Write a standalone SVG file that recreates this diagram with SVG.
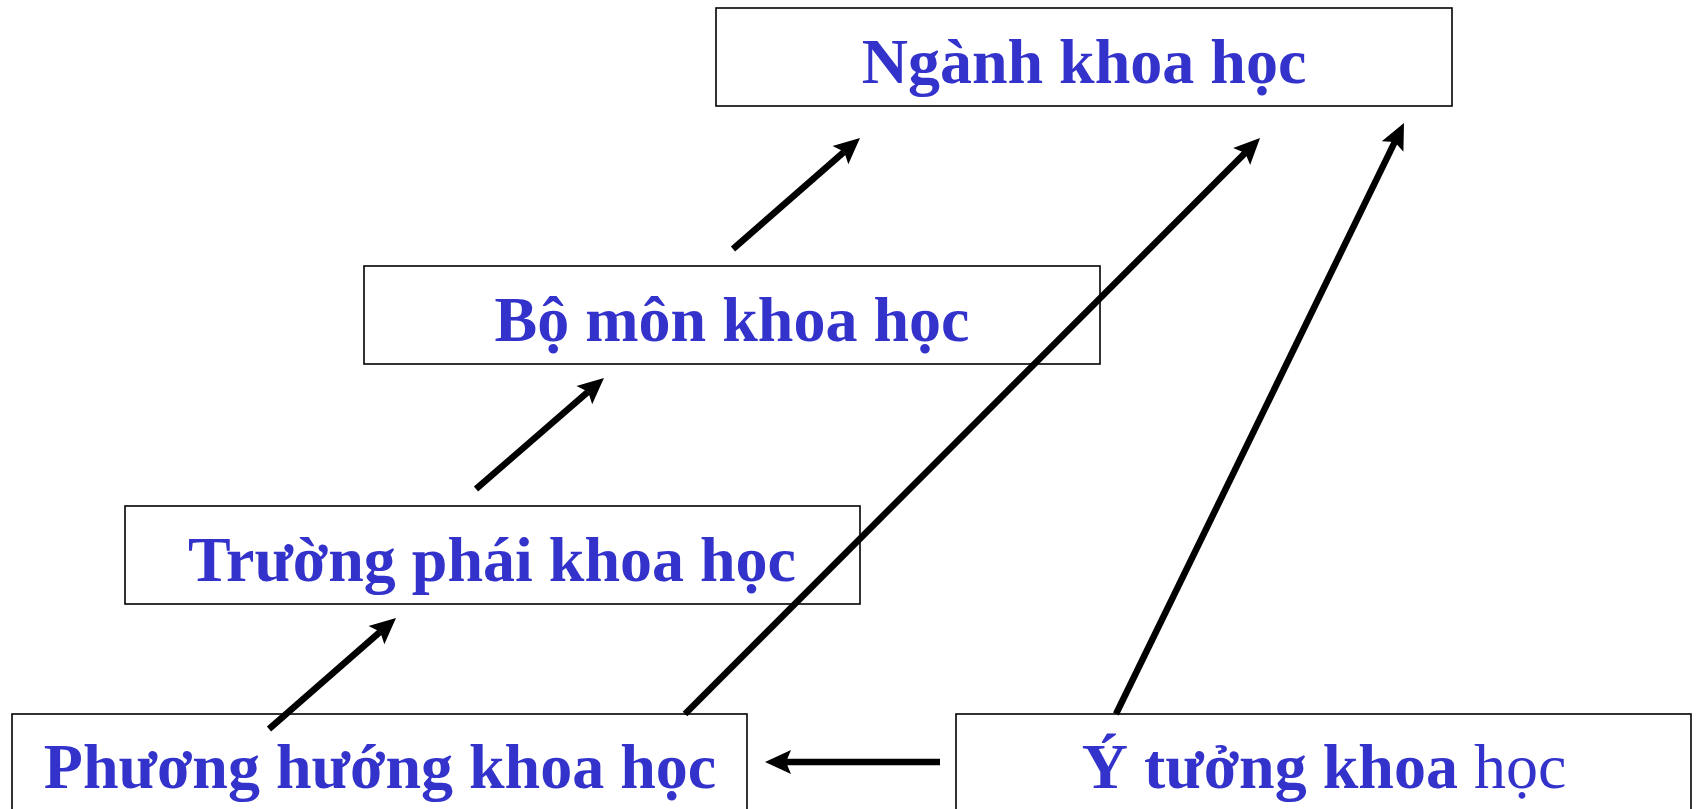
<svg xmlns="http://www.w3.org/2000/svg" width="1698" height="809" viewBox="0 0 1698 809">
  <style>
    .box { fill: #ffffff; stroke: #000000; stroke-width: 1.6; }
    .lbl { font-family: "Liberation Serif", "Times New Roman", serif; font-size: 64px; font-weight: bold; fill: #3333cc; text-anchor: middle; }
    .reg { font-weight: normal; }
    .arrow { stroke: #000000; stroke-width: 6.5; fill: none; marker-end: url(#head); }
  </style>
  <defs>
    <!-- arrowhead anchored at its notch so the shaft stops inside the head -->
    <marker id="head" markerUnits="userSpaceOnUse" markerWidth="26" markerHeight="24" viewBox="0 0 26 24" refX="5" refY="12" orient="auto" overflow="visible">
      <path d="M0,0 L26,12 L0,24 L5,12 Z" fill="#000000"/>
    </marker>
  </defs>

  <rect width="1698" height="809" fill="#ffffff"/>

  <g id="nganh-khoa-hoc">
    <rect class="box" x="716" y="8" width="736" height="98"/>
    <text class="lbl" x="1084" y="83">Ngành khoa học</text>
  </g>

  <g id="bo-mon-khoa-hoc">
    <rect class="box" x="364" y="266" width="736" height="98"/>
    <text class="lbl" x="732" y="341">Bộ môn khoa học</text>
  </g>

  <g id="truong-phai-khoa-hoc">
    <rect class="box" x="125" y="506" width="735" height="98"/>
    <text class="lbl" x="492" y="581">Trường phái khoa học</text>
  </g>

  <g id="phuong-huong-khoa-hoc">
    <rect class="box" x="12" y="714" width="735" height="98"/>
    <text class="lbl" x="380" y="788">Phương hướng khoa học</text>
  </g>

  <g id="y-tuong-khoa-hoc">
    <rect class="box" x="956" y="714" width="735" height="98"/>
    <text class="lbl" x="1324" y="788">Ý tưởng khoa <tspan class="reg">học</tspan></text>
  </g>

  <g id="connectors">
    <line class="arrow" x1="733" y1="249" x2="844.2" y2="151.8"/>
    <line class="arrow" x1="476" y1="489" x2="588.1" y2="391.8"/>
    <line class="arrow" x1="269" y1="729" x2="380.2" y2="631.8"/>
    <line class="arrow" x1="685" y1="714" x2="1245.2" y2="152.9"/>
    <line class="arrow" x1="1116" y1="714" x2="1394.8" y2="141.9"/>
    <line class="arrow" x1="940" y1="762" x2="786" y2="762"/>
  </g>
</svg>
